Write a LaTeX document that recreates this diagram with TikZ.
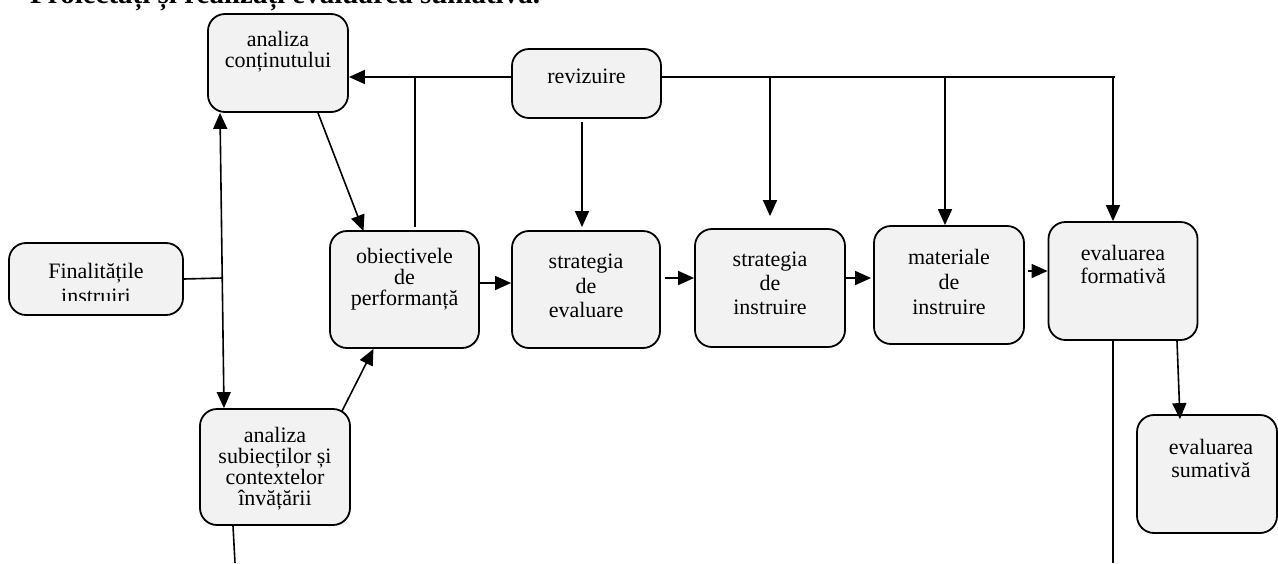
\documentclass[tikz,border=0pt]{standalone}
\usepackage{fontspec}
\setmainfont{Liberation Serif}
\usetikzlibrary{arrows.meta,calc}
\definecolor{boxgray}{HTML}{F2F2F2}
\newcommand\myboxfont[1]{\fontsize{22}{#1}\selectfont\lineskiplimit=-50pt\relax}
\begin{document}
\begin{tikzpicture}[x=1pt,y=-1pt,
  box/.style={draw, line width=1.8pt, rounded corners=17pt, fill=boxgray, inner sep=0pt},
  txt/.style={align=center, inner sep=0pt, font=\myboxfont{#1}},
  conn/.style={line width=1.6pt},
  arr/.style={conn, -{Triangle[length=16pt,width=14pt]}},
  darr/.style={conn, {Triangle[length=16pt,width=14pt]}-{Triangle[length=16pt,width=14pt]}},
  ]
\useasboundingbox (0,0) rectangle (1278,563);
\clip (0,0) rectangle (1278,563);

% title (cropped at top)
\node[anchor=base west, inner sep=0pt, font=\fontsize{29}{29}\selectfont\bfseries] (title) at (30,3) {Proiectați și realizați evaluarea sumativă.};

% boxes
\node[box, minimum width=140pt, minimum height=98pt] (ac) at (278,63) {};
\node[box, minimum width=149pt, minimum height=69pt] (rev) at (586.5,83.5) {};
\node[box, minimum width=174pt, minimum height=72pt] (fin) at (96,279) {};
\node[box, minimum width=149pt, minimum height=117pt] (obi) at (404.5,289.5) {};
\node[box, minimum width=148pt, minimum height=117pt] (se) at (586,289.5) {};
\node[box, minimum width=150pt, minimum height=118pt] (si) at (770,288) {};
\node[box, minimum width=150pt, minimum height=118pt] (mi) at (949,285) {};
\node[box, minimum width=149pt, minimum height=118pt] (ef) at (1123,281) {};
\node[box, minimum width=150pt, minimum height=116pt] (as) at (275,467) {};
\node[box, minimum width=140pt, minimum height=118pt] (es) at (1207,474) {};

% texts
\node[txt=21] (ac-t) at (278,51.4) {analiza\\conținutului};
\node[txt=21] (rev-t) at (586.5,76.5) {revizuire};
\begin{scope}
  \clip (9,243) rectangle (183,300);
  \node[txt=25] (fin-t) at (96,283) {Finalitățile\\instruiri};
\end{scope}
\node[txt=21] (obi-t) at (404.5,278.9) {obiectivele\\de\\performanță};
\node[txt=24.5] (se-t) at (586,286) {strategia\\de\\evaluare};
\node[txt=24] (si-t) at (770,283.5) {strategia\\de\\instruire};
\node[txt=25] (mi-t) at (949,281.5) {materiale\\de\\instruire};
\node[txt=23] (ef-t) at (1123,264) {evaluarea\\formativă};
\node[txt=21] (as-t) at (275,468.4) {analiza\\subiecților și\\contextelor\\învățării};
\node[txt=23] (es-t) at (1211,458) {evaluarea\\sumativă};

% revision bus
\coordinate (jL) at (415,77);
\coordinate (jR) at (1115,77);
\coordinate (t2) at (770,77);
\coordinate (t3) at (945,77);
\coordinate (t4) at (1113,77);
\coordinate (rs) at (582,122);
\draw[arr] (rev.west |- jL) -- (ac.east |- jL);
\draw[conn] (jL) -- ([yshift=3pt]obi.north -| jL);
\draw[conn] (rev.east |- jL) -- (jR);
\draw[arr] (t2) -- ([yshift=12pt]si.north -| t2);
\draw[arr] (t3) -- (mi.north -| t3);
\draw[arr] (t4) -- (ef.north -| t4);
\draw[arr] (rs) -- ([yshift=3pt]se.north -| rs);

% left part
\coordinate (fj) at (222,278);
\coordinate (asb) at (235,563);
\draw[arr] ([xshift=40pt]ac.south) -- ([xshift=-41pt,yshift=-1pt]obi.north);
\draw[darr] ([xshift=-58pt]ac.south) -- ([xshift=-51pt]as.north);
\draw[conn] (fin.east) -- (fj);
\draw[arr] ([xshift=67pt,yshift=-3pt]as.north) -- ([xshift=-31pt]obi.south);
\draw[conn] ([xshift=-42pt]as.south) -- (asb);

% main chain
\draw[arr] ([yshift=6.5pt]obi.east) -- ([yshift=6.5pt]se.west);
\draw[arr] ([xshift=4pt,yshift=11.5pt]se.east) -- ([yshift=10pt]si.west);
\draw[arr] ([yshift=10pt]si.east) -- ([xshift=-2pt,yshift=7pt]mi.west);
\draw[arr] ([xshift=3pt,yshift=14pt]mi.east) -- ([yshift=10pt]ef.west);

% right part
\coordinate (efb) at (1113,563);
\draw[conn] ([xshift=-10pt]ef.south) -- (efb);
\draw[arr] ([xshift=54pt]ef.south) -- ([xshift=-27pt,yshift=-5pt]es.north);
\end{tikzpicture}
\end{document}
